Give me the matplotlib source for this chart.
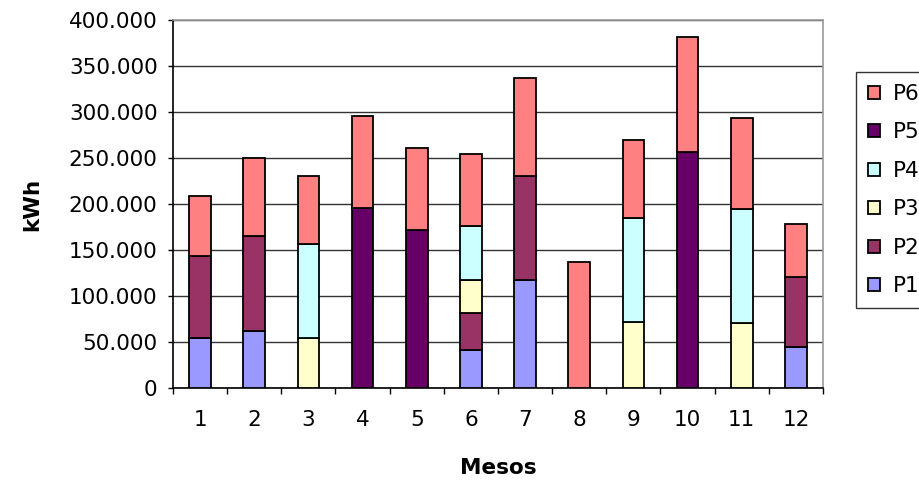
import matplotlib
matplotlib.use("Agg")
import matplotlib.pyplot as plt
from matplotlib.ticker import FuncFormatter, MultipleLocator
import numpy as np

months = ["1", "2", "3", "4", "5", "6", "7", "8", "9", "10", "11", "12"]
series_names = ["P1", "P2", "P3", "P4", "P5", "P6"]
p1 = [54000, 62000, 0, 0, 0, 41000, 117000, 0, 0, 0, 0, 45000]
p2 = [89000, 103000, 0, 0, 0, 41000, 113000, 0, 0, 0, 0, 76000]
p3 = [0, 0, 54000, 0, 0, 35000, 0, 0, 72000, 0, 71000, 0]
p4 = [0, 0, 102000, 0, 0, 59000, 0, 0, 113000, 0, 124000, 0]
p5 = [0, 0, 0, 196000, 172000, 0, 0, 0, 0, 257000, 0, 0]
p6 = [66000, 85000, 74000, 100000, 89000, 78000, 107000, 137000, 85000, 124000, 98000, 57000]
colors = ["#9999FF", "#993366", "#FFFFCC", "#CCFFFF", "#660066", "#FF8080"]

plt.rcParams["font.family"] = ["DejaVu Sans"]
FS = 15.5

fig = plt.figure(figsize=(9.2, 4.8), dpi=100)
ax = fig.add_axes([173 / 920, 92 / 480, 650 / 920, 368 / 480])

x = np.arange(len(months))
bottom = np.zeros(len(months))
handles = []
for name, vals, col in zip(series_names, [p1, p2, p3, p4, p5, p6], colors):
    vals = np.array(vals, dtype=float)
    bars = ax.bar(x, vals, width=0.4, bottom=bottom, color=col,
                  edgecolor="black", linewidth=1.3, label=name, zorder=3)
    handles.append(bars)
    bottom += vals

ax.set_xlim(-0.5, len(months) - 0.5)
ax.set_ylim(0, 400000)
ax.yaxis.set_major_locator(MultipleLocator(50000))
ax.yaxis.set_major_formatter(FuncFormatter(
    lambda v, p: "0" if v == 0 else f"{int(v):,}".replace(",", ".")))
ax.set_xticks(x)
ax.set_xticklabels(months)
ax.set_xticks(np.arange(-0.5, len(months)), minor=True)
ax.tick_params(axis="x", which="major", length=0, pad=16, labelsize=FS)
ax.tick_params(axis="x", which="minor", length=4.5, width=1, direction="out")
ax.tick_params(axis="y", length=3.6, width=1, direction="out", labelsize=FS, pad=7.5)

ax.grid(axis="y", color="#333333", linewidth=1, zorder=0)
for side in ["left", "bottom"]:
    ax.spines[side].set_color("black")
    ax.spines[side].set_linewidth(1.2)
for side in ["top", "right"]:
    ax.spines[side].set_color("#999999")
    ax.spines[side].set_linewidth(1.2)

ax.set_ylabel("kWh", fontsize=FS, fontweight="bold", labelpad=19)
ax.set_xlabel("Mesos", fontsize=FS, fontweight="bold", labelpad=20)

leg = fig.legend(handles[::-1], series_names[::-1], loc="upper left",
                 bbox_to_anchor=(856 / 920, 1 - 72 / 480), fontsize=FS,
                 frameon=True, fancybox=False, edgecolor="black",
                 handlelength=0.55, handleheight=0.55, handletextpad=0.6,
                 labelspacing=0.86, borderpad=0.55, borderaxespad=0)
leg.get_frame().set_linewidth(1)

fig.savefig("out.png", dpi=100)
